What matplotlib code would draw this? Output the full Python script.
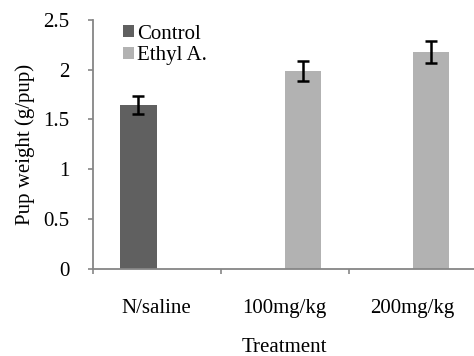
import matplotlib
matplotlib.use("Agg")
import matplotlib.pyplot as plt
import numpy as np

categories = ["N/saline", "100mg/kg", "200mg/kg"]
control_vals = [1.645, 0, 0]
control_err = [0.087, 0, 0]
ethyl_vals = [0, 1.987, 2.178]
ethyl_err = [0, 0.10, 0.11]
series_names = ["Control", "Ethyl A."]
yticks = [0, 0.5, 1, 1.5, 2, 2.5]
ytick_labels = ["0", "0.5", "1", "1.5", "2", "2.5"]

plt.rcParams['font.family'] = ['Liberation Serif', 'DejaVu Serif']
FS = 15

fig = plt.figure(figsize=(4.74, 3.56), dpi=100)
ax = fig.add_axes([92.7/474, 1-268.7/356, 384/474, (268.7-20)/356])

x = np.arange(len(categories))
w = 0.287
ctrl_color = "#606060"
eth_color = "#b2b2b2"

cidx = [i for i, v in enumerate(control_vals) if v > 0]
eidx = [i for i, v in enumerate(ethyl_vals) if v > 0]
ax.bar(x[cidx] - w/2, [control_vals[i] for i in cidx], w, color=ctrl_color, label=series_names[0])
ax.bar(x[eidx] + w/2, [ethyl_vals[i] for i in eidx], w, color=eth_color, label=series_names[1])
ax.errorbar(x[cidx] - w/2, [control_vals[i] for i in cidx], yerr=[control_err[i] for i in cidx],
            fmt='none', ecolor='black', elinewidth=1.8, capsize=4.6, capthick=1.8)
ax.errorbar(x[eidx] + w/2, [ethyl_vals[i] for i in eidx], yerr=[ethyl_err[i] for i in eidx],
            fmt='none', ecolor='black', elinewidth=1.8, capsize=4.6, capthick=1.8)

ax.set_xlim(-0.5, 2.5)
ax.set_ylim(0, 2.5)
ax.set_yticks(yticks)
ax.set_yticklabels(ytick_labels, fontsize=FS)
ax.set_xticks(x)
ax.set_xticklabels(categories, fontsize=FS)
ax.set_xticks([-0.5, 0.5, 1.5, 2.5], minor=True)
ax.tick_params(axis='x', which='major', length=0, pad=22)
ax.tick_params(axis='x', which='minor', length=3.7, width=1.2, color='#868686', direction='out')
ax.tick_params(axis='y', length=3.7, width=1.2, color='#868686', direction='out', pad=13)

for s in ['top', 'right']:
    ax.spines[s].set_visible(False)
for s in ['left', 'bottom']:
    ax.spines[s].set_color('#868686')
    ax.spines[s].set_linewidth(1.3)

ax.set_ylabel("Pup weight (g/pup)", fontsize=FS, va='center', ha='center')
ax.yaxis.set_label_coords(-0.176, 0.499)
ax.set_xlabel("Treatment", fontsize=FS, va='center', ha='center')
ax.xaxis.set_label_coords(0.498, -0.315)

leg = ax.legend(loc='upper left', bbox_to_anchor=(0.08, 0.981), frameon=False, fontsize=FS,
                handlelength=0.51, handleheight=0.51, handletextpad=0.16, labelspacing=0.12,
                borderaxespad=0, borderpad=0)

fig.savefig("out.png", dpi=100)
